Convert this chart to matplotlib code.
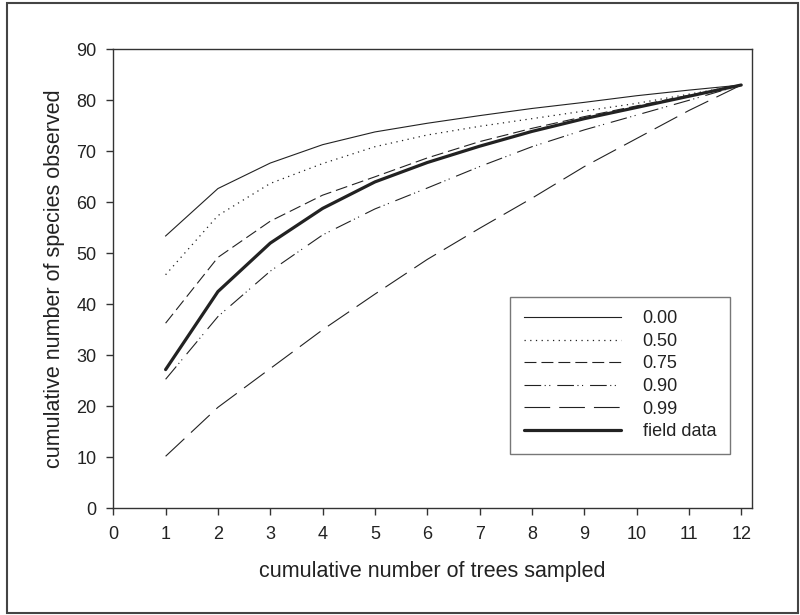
import matplotlib
matplotlib.use("Agg")
from matplotlib import pyplot as plt
from matplotlib.patches import Rectangle

plt.rcParams['font.family'] = ['Liberation Sans', 'DejaVu Sans']
plt.rcParams['lines.scale_dashes'] = False

# cumulative number of trees sampled
trees = [1, 2, 3, 4, 5, 6, 7, 8, 9, 10, 11, 12]

# simulated curves (by aggregation level) and field data
p000 = [53.4, 62.7, 67.7, 71.3, 73.8, 75.5, 77.0, 78.4, 79.6, 80.9, 82.0, 83.0]
p050 = [45.8, 57.4, 63.7, 67.6, 70.9, 73.2, 74.9, 76.4, 77.9, 79.4, 81.2, 83.0]
p075 = [36.3, 49.2, 56.3, 61.4, 65.0, 68.7, 71.9, 74.5, 76.8, 78.9, 81.0, 83.0]
p090 = [25.3, 37.6, 46.5, 53.6, 58.7, 62.8, 67.0, 70.9, 74.2, 77.1, 80.0, 83.0]
p099 = [10.2, 19.8, 27.4, 35.0, 42.0, 48.8, 54.9, 60.8, 67.0, 72.5, 78.0, 83.0]
field = [27.2, 42.5, 52.0, 58.8, 64.0, 67.8, 71.0, 73.9, 76.4, 78.6, 80.8, 83.0]

labels = ['0.00', '0.50', '0.75', '0.90', '0.99', 'field data']

ink = '#222222'

fig = plt.figure(figsize=(8, 6.15), dpi=100)
ax = fig.add_axes([0.1416, 0.1735, 0.798, 0.7463])

ax.plot(trees, p000, color=ink, lw=0.8, label=labels[0])
ax.plot(trees, p050, color=ink, lw=0.9, dashes=(0.9, 3.2), label=labels[1])
ax.plot(trees, p075, color=ink, lw=0.8, dashes=(8.6, 3.6), label=labels[2])
ax.plot(trees, p090, color=ink, lw=0.8,
        dashes=(12, 2.5, 0.8, 2.5, 0.8, 5), label=labels[3])
ax.plot(trees, p099, color=ink, lw=0.8, dashes=(18.5, 6.5), label=labels[4])
ax.plot(trees, field, color=ink, lw=2.3, solid_capstyle='round', label=labels[5])

ax.set_xlim(0, 12.2)
ax.set_ylim(0, 90)
ax.set_xticks(range(0, 13))
ax.set_yticks(range(0, 91, 10))
ax.tick_params(direction='out', length=5, width=1, colors='#333333',
               labelcolor=ink, labelsize=13)
ax.tick_params(axis='x', pad=8)
ax.tick_params(axis='y', pad=7)
for s in ax.spines.values():
    s.set_color('#333333')
    s.set_linewidth(1)

ax.set_xlabel('cumulative number of trees sampled', fontsize=15.5, color=ink, labelpad=13)
ax.set_ylabel('cumulative number of species observed', fontsize=15.5, color=ink, labelpad=8)

leg = ax.legend(loc='upper left', bbox_to_anchor=(510 / 800, 1 - 296.7 / 615),
                bbox_transform=fig.transFigure, borderaxespad=0,
                fontsize=13, frameon=True, fancybox=False, shadow=False,
                handlelength=5.4, handletextpad=1.2, labelspacing=0.31,
                borderpad=0.75)
leg.get_frame().set_edgecolor('#555555')
leg.get_frame().set_linewidth(1)
for t in leg.get_texts():
    t.set_color(ink)

# outer frame around the whole picture
fig.patches.append(Rectangle((7 / 800, 2 / 615), 791 / 800, 610 / 615,
                             transform=fig.transFigure, fill=False,
                             ec='#444444', lw=1.5))

fig.savefig('out.png', dpi=100)
